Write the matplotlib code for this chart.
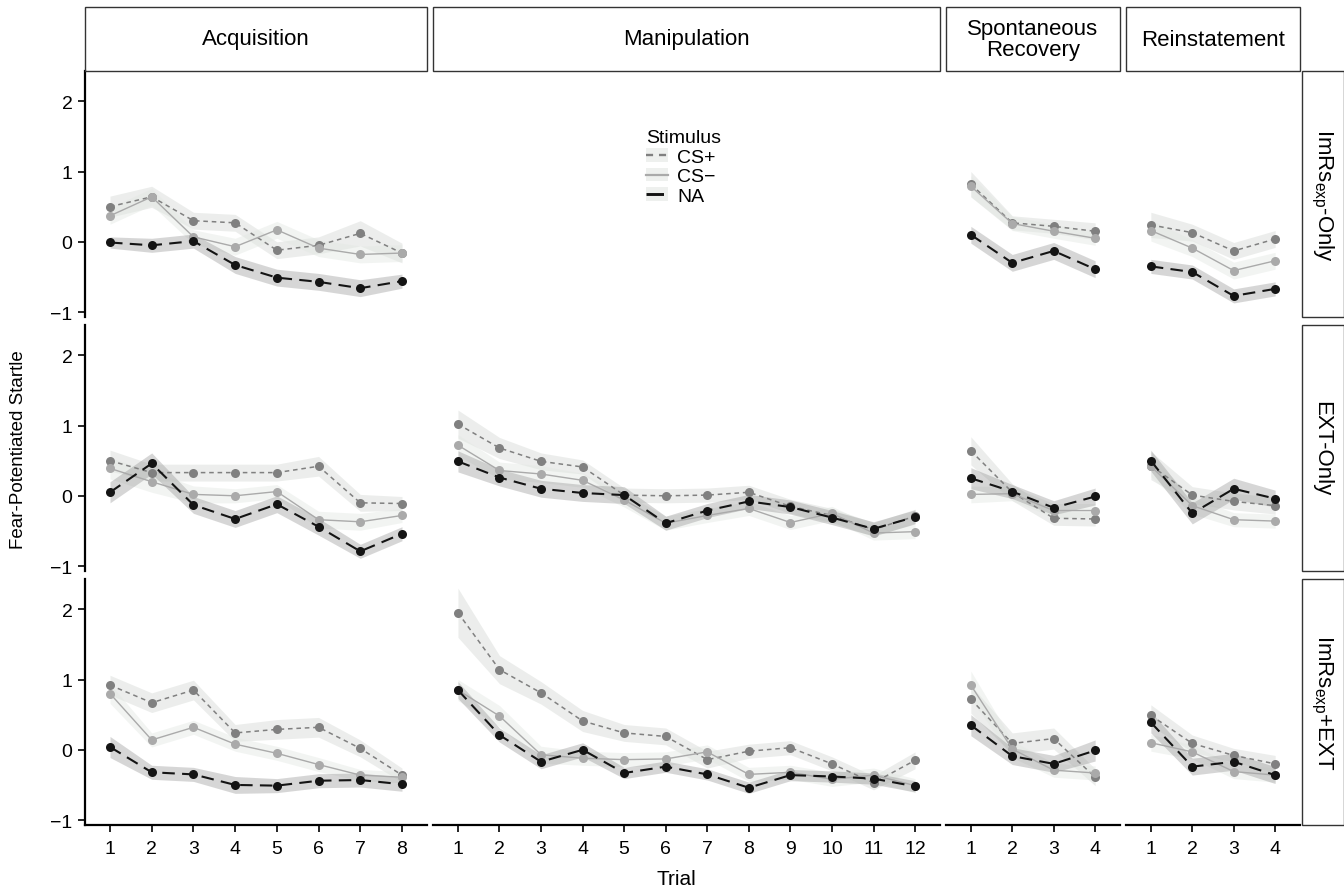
import matplotlib
matplotlib.use("Agg")
import matplotlib.pyplot as plt
from matplotlib.patches import Rectangle, Patch
from matplotlib.lines import Line2D
import numpy as np

plt.rcParams['font.family'] = ['Liberation Sans', 'DejaVu Sans']
plt.rcParams['mathtext.fontset'] = 'custom'
plt.rcParams['mathtext.rm'] = 'Liberation Sans'

phases = ["Acquisition", "Manipulation", "Spontaneous\nRecovery", "Reinstatement"]
n_trials = [8, 12, 4, 4]
groups = [r"ImRs$_{\mathrm{exp}}$-Only", "EXT-Only", r"ImRs$_{\mathrm{exp}}$+EXT"]
stimuli = ["CS+", "CS\u2212", "NA"]

# means, one list per group (rows), None = no data
acq_csp = [[0.50, 0.64, 0.30, 0.27, -0.12, -0.05, 0.12, -0.16],
           [0.50, 0.33, 0.33, 0.33, 0.33, 0.42, -0.10, -0.11],
           [0.92, 0.67, 0.85, 0.24, 0.29, 0.32, 0.02, -0.36]]
acq_csm = [[0.37, 0.64, 0.07, -0.07, 0.17, -0.09, -0.18, -0.16],
           [0.39, 0.20, 0.02, 0.00, 0.06, -0.34, -0.37, -0.28],
           [0.80, 0.14, 0.32, 0.08, -0.05, -0.21, -0.36, -0.39]]
acq_na = [[-0.01, -0.05, 0.01, -0.33, -0.51, -0.57, -0.66, -0.56],
          [0.05, 0.46, -0.13, -0.33, -0.12, -0.44, -0.79, -0.54],
          [0.04, -0.32, -0.35, -0.50, -0.51, -0.44, -0.43, -0.49]]

man_csp = [None,
           [1.02, 0.68, 0.49, 0.41, 0.01, 0.00, 0.01, 0.05, -0.15, -0.28, -0.48, -0.29],
           [1.95, 1.14, 0.81, 0.41, 0.24, 0.19, -0.14, -0.02, 0.03, -0.20, -0.47, -0.15]]
man_csm = [None,
           [0.72, 0.36, 0.31, 0.22, -0.06, -0.39, -0.28, -0.18, -0.38, -0.25, -0.53, -0.51],
           [0.85, 0.48, -0.07, -0.12, -0.14, -0.13, -0.03, -0.35, -0.32, -0.42, -0.36, -0.51]]
man_na = [None,
          [0.49, 0.26, 0.10, 0.04, 0.01, -0.39, -0.21, -0.08, -0.16, -0.31, -0.47, -0.30],
          [0.85, 0.21, -0.17, 0.00, -0.33, -0.24, -0.35, -0.54, -0.36, -0.38, -0.41, -0.52]]

spr_csp = [[0.82, 0.27, 0.22, 0.15], [0.64, 0.05, -0.32, -0.33], [0.72, 0.09, 0.16, -0.39]]
spr_csm = [[0.79, 0.26, 0.15, 0.05], [0.02, 0.03, -0.21, -0.21], [0.92, 0.01, -0.29, -0.33]]
spr_na = [[0.10, -0.30, -0.13, -0.39], [0.25, 0.06, -0.17, -0.01], [0.35, -0.09, -0.20, -0.01]]

rei_csp = [[0.24, 0.13, -0.13, 0.04], [0.43, 0.01, -0.08, -0.14], [0.49, 0.09, -0.08, -0.20]]
rei_csm = [[0.16, -0.09, -0.41, -0.27], [0.42, -0.14, -0.34, -0.36], [0.10, -0.03, -0.31, -0.36]]
rei_na = [[-0.35, -0.43, -0.77, -0.67], [0.50, -0.25, 0.10, -0.04], [0.39, -0.24, -0.17, -0.36]]

# standard errors (ribbon half widths), same layout
acq_csp_se = [[0.15, 0.15, 0.12, 0.12, 0.12, 0.12, 0.18, 0.14],
              [0.15, 0.12, 0.12, 0.12, 0.12, 0.14, 0.12, 0.10],
              [0.14, 0.14, 0.14, 0.12, 0.14, 0.14, 0.12, 0.10]]
acq_csm_se = [[0.12, 0.12, 0.10, 0.12, 0.12, 0.12, 0.12, 0.12],
              [0.15, 0.15, 0.12, 0.10, 0.10, 0.12, 0.12, 0.10],
              [0.14, 0.10, 0.10, 0.10, 0.10, 0.10, 0.08, 0.08]]
acq_na_se = [[0.08, 0.10, 0.10, 0.12, 0.12, 0.12, 0.12, 0.10],
             [0.15, 0.15, 0.12, 0.12, 0.12, 0.12, 0.10, 0.10],
             [0.15, 0.10, 0.10, 0.12, 0.10, 0.10, 0.10, 0.10]]
man_csp_se = [None,
              [0.20, 0.15, 0.12, 0.10, 0.10, 0.10, 0.10, 0.10, 0.10, 0.10, 0.10, 0.10],
              [0.35, 0.20, 0.16, 0.15, 0.12, 0.12, 0.12, 0.10, 0.10, 0.10, 0.10, 0.12]]
man_csm_se = [None,
              [0.15, 0.12, 0.12, 0.10, 0.10, 0.10, 0.10, 0.10, 0.10, 0.10, 0.10, 0.10],
              [0.15, 0.15, 0.12, 0.10, 0.10, 0.10, 0.10, 0.10, 0.10, 0.10, 0.10, 0.10]]
man_na_se = [None,
             [0.15, 0.12, 0.12, 0.12, 0.12, 0.10, 0.10, 0.10, 0.10, 0.10, 0.10, 0.10],
             [0.12, 0.10, 0.10, 0.10, 0.08, 0.08, 0.08, 0.08, 0.08, 0.08, 0.08, 0.08]]
spr_csp_se = [[0.18, 0.10, 0.10, 0.12], [0.20, 0.12, 0.10, 0.10], [0.20, 0.15, 0.15, 0.12]]
spr_csm_se = [[0.15, 0.10, 0.10, 0.10], [0.12, 0.10, 0.10, 0.10], [0.20, 0.12, 0.10, 0.10]]
spr_na_se = [[0.12, 0.12, 0.12, 0.12], [0.15, 0.10, 0.10, 0.12], [0.15, 0.12, 0.12, 0.15]]
rei_csp_se = [[0.18, 0.12, 0.12, 0.12], [0.20, 0.12, 0.12, 0.12], [0.15, 0.12, 0.10, 0.12]]
rei_csm_se = [[0.15, 0.12, 0.12, 0.12], [0.15, 0.12, 0.10, 0.10], [0.12, 0.10, 0.10, 0.10]]
rei_na_se = [[0.10, 0.10, 0.10, 0.10], [0.15, 0.15, 0.15, 0.12], [0.15, 0.12, 0.12, 0.12]]

means = [[acq_csp, acq_csm, acq_na], [man_csp, man_csm, man_na],
         [spr_csp, spr_csm, spr_na], [rei_csp, rei_csm, rei_na]]
ses = [[acq_csp_se, acq_csm_se, acq_na_se], [man_csp_se, man_csm_se, man_na_se],
       [spr_csp_se, spr_csm_se, spr_na_se], [rei_csp_se, rei_csm_se, rei_na_se]]

line_col = ['#808080', '#aaaaaa', '#141414']
fill_col = ['#c9cec9', '#e3e8e3', '#8c8c8c']
fill_alpha = [0.35, 0.45, 0.35]
dashes = [(3, 2.5), None, (6, 3.5)]
lws = [1.1, 1.0, 1.5]

W, H = 1344, 895
fig = plt.figure(figsize=(W / 100, H / 100), dpi=100)

col_x = [(85, 427), (433, 940), (946, 1120), (1126, 1300)]
row_y = [(72, 318), (326, 572), (580, 826)]
ylim = (-1.07, 2.43)


def fbox(x0, y0, x1, y1):
    return [x0 / W, 1 - y1 / H, (x1 - x0) / W, (y1 - y0) / H]


axes = {}
for r in range(3):
    for c in range(4):
        ax = fig.add_axes(fbox(col_x[c][0], row_y[r][0], col_x[c][1], row_y[r][1]))
        axes[(r, c)] = ax
        n = n_trials[c]
        x = np.arange(1, n + 1)
        for s in range(3):
            m = means[c][s][r]
            if m is None:
                continue
            m = np.array(m)
            e = np.array(ses[c][s][r])
            ax.fill_between(x, m - e, m + e, color=fill_col[s], alpha=fill_alpha[s],
                            linewidth=0, zorder=1)
        for s in range(3):
            m = means[c][s][r]
            if m is None:
                continue
            ln, = ax.plot(x, m, color=line_col[s], lw=lws[s], marker='o', ms=6.5,
                          mec='none', mfc=line_col[s], zorder=2 + s)
            if dashes[s]:
                ln.set_dashes(dashes[s])
        ax.set_xlim(0.4, n + 0.6)
        ax.set_ylim(*ylim)
        for sp in ['top', 'right']:
            ax.spines[sp].set_visible(False)
        ax.spines['left'].set_visible(c == 0)
        ax.spines['bottom'].set_visible(r == 2)
        ax.spines['left'].set_linewidth(1.6)
        ax.spines['bottom'].set_linewidth(1.6)
        ax.set_yticks([-1, 0, 1, 2])
        ax.set_xticks(x)
        ax.tick_params(length=5, width=1.2, labelsize=14, colors='black')
        ax.tick_params(axis='x', pad=6)
        ax.tick_params(axis='y', pad=4)
        if c != 0:
            ax.tick_params(axis='y', left=False, labelleft=False)
        if r != 2:
            ax.tick_params(axis='x', bottom=False, labelbottom=False)
        ax.patch.set_alpha(0)

# column strips
for c in range(4):
    x0, x1 = col_x[c]
    fig.patches.append(Rectangle((x0 / W, 1 - 72 / H), (x1 - x0) / W, 64 / H,
                                 transform=fig.transFigure, fill=False,
                                 edgecolor='#333333', lw=1.0))
    fig.text((x0 + x1) / 2 / W, 1 - 40 / H, phases[c], ha='center', va='center',
             fontsize=16, linespacing=0.95)

# row strips
for r in range(3):
    y0, y1 = row_y[r]
    fig.patches.append(Rectangle((1302 / W, 1 - y1 / H), 42 / W, (y1 - y0) / H,
                                 transform=fig.transFigure, fill=False,
                                 edgecolor='#333333', lw=1.0))
    fig.text(1322 / W, 1 - (y0 + y1) / 2 / H, groups[r], ha='center', va='center',
             rotation=-90, fontsize=16)

# legend in the empty panel
handles = []
for s in range(3):
    ln = Line2D([], [], color=line_col[s], lw=lws[s] + 0.6)
    if dashes[s]:
        ln.set_dashes(dashes[s])
    handles.append((Patch(facecolor='#eef0ee', edgecolor='none'), ln))
leg = axes[(0, 1)].legend(handles, stimuli, title='Stimulus', loc='upper left',
                          bbox_to_anchor=(0.405, 0.795), frameon=False, fontsize=14,
                          title_fontsize=14, handlelength=1.1, handletextpad=0.5,
                          labelspacing=0.1, borderaxespad=0)
leg._legend_box.align = 'left'

fig.text(676 / W, 1 - 880 / H, 'Trial', ha='center', va='center', fontsize=15)
fig.text(19 / W, 1 - 450 / H, 'Fear-Potentiated Startle', ha='center', va='center',
         rotation=90, fontsize=13.5)

fig.savefig('out.png', dpi=100)
